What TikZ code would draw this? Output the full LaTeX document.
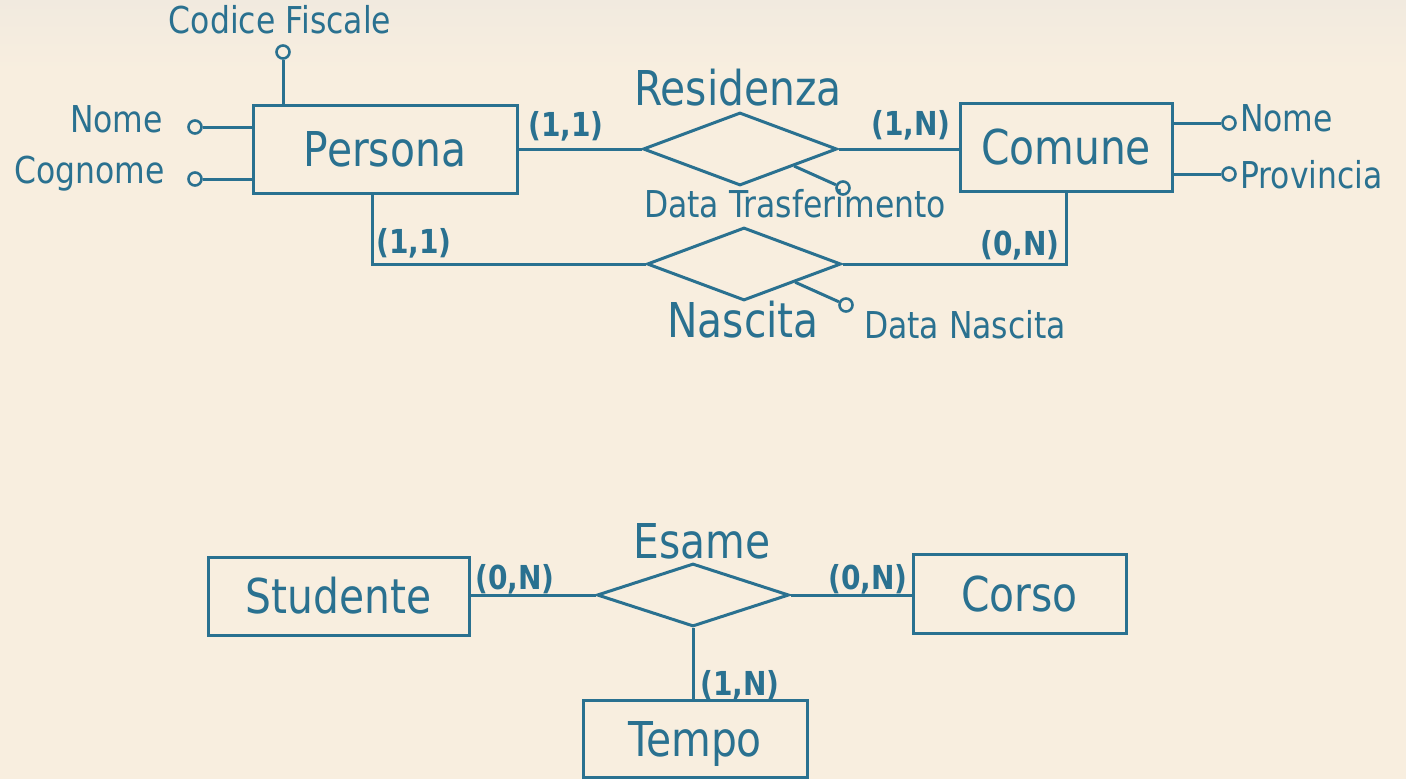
\documentclass[tikz,border=0pt]{standalone}
\usepackage{fontspec}
\setmainfont{DejaVu Sans}[FakeStretch=0.85]
\usetikzlibrary{shapes.geometric,calc}
\definecolor{er}{HTML}{2A7190}
\definecolor{bg}{HTML}{F8EEDF}
\definecolor{bgtop}{HTML}{F1EADF}
\tikzset{
  entity/.style={draw=er,line width=3pt,rectangle,inner sep=0pt,text=er,
    font=\fontsize{48}{50}\selectfont,text height=35pt,text depth=0pt},
  relation/.style={draw=er,line width=3pt,diamond,inner sep=0pt},
  attr/.style={draw=er,line width=2.6pt,circle,fill=bg,inner sep=0pt,minimum size=13pt},
  attrtext/.style={text=er,inner sep=0pt,font=\fontsize{37}{39}\selectfont},
  reltext/.style={text=er,inner sep=0pt,font=\fontsize{48}{50}\selectfont},
  card/.style={text=er,inner sep=0pt,font=\fontsize{33}{35}\selectfont\bfseries},
  link/.style={draw=er,line width=3pt}
}
\begin{document}
\begin{tikzpicture}[x=1pt,y=-1pt]
\fill[bg] (0,0) rectangle (1406,779);
\shade[top color=bgtop,bottom color=bg] (0,0) rectangle (1406,70);
\useasboundingbox (0,0) rectangle (1406,779);

% entities
\node[entity,minimum width=264pt,minimum height=88pt] (persona) at (385,149) {Persona};
\node[entity,minimum width=212pt,minimum height=88pt] (comune) at (1066,147) {Comune};
\node[entity,minimum width=261pt,minimum height=78pt] (studente) at (338.5,596) {Studente};
\node[entity,minimum width=213pt,minimum height=79pt] (corso) at (1019.5,593.5) {Corso};
\node[entity,minimum width=224pt,minimum height=77pt] (tempo) at (695,738.5) {Tempo};

% relationships
\node[relation,minimum width=194pt,minimum height=73pt] (res) at (740,149) {};
\node[relation,minimum width=194pt,minimum height=73pt] (nas) at (744,264) {};
\node[relation,minimum width=192pt,minimum height=63pt] (esa) at (693,595) {};

\node[reltext,anchor=base] (resl) at (738,105) {Residenza};
\node[reltext,anchor=base] (nasl) at (743,337) {Nascita};
\node[reltext,anchor=base] (esal) at (702,558) {Esame};

% attribute circles
\node[attr] (cf) at (283,52) {};
\node[attr] (pnome) at (195,127) {};
\node[attr] (pcogn) at (195,179) {};
\node[attr] (cnome) at (1229,123) {};
\node[attr] (cprov) at (1229,174) {};
\node[attr] (dtr) at (843,188) {};
\node[attr] (dna) at (846,305) {};

% attribute texts
\node[attrtext,anchor=base] (cft) at (280,33) {Codice Fiscale};
\node[attrtext,anchor=base east] (pnomet) at (163,132) {Nome};
\node[attrtext,anchor=base east] (pcognt) at (165,183) {Cognome};
\node[attrtext,anchor=base west] (cnomet) at (1240,131) {Nome};
\node[attrtext,anchor=base west] (cprovt) at (1240,188) {Provincia};
\node[attrtext,anchor=base] (dtrt) at (795,217) {Data Trasferimento};
\node[attrtext,anchor=base] (dnat) at (965,338) {Data Nascita};

% attribute links
\draw[link] (persona.north -| cf) -- (cf);
\draw[link] (persona.west |- pnome) -- (pnome);
\draw[link] (persona.west |- pcogn) -- (pcogn);
\draw[link] (comune.east |- cnome) -- (cnome);
\draw[link] (comune.east |- cprov) -- (cprov);
\coordinate (dtra) at ($(res.east)!0.45!(res.south)$);
\draw[link] (dtra) -- (dtr);
\coordinate (dnaa) at ($(nas.east)!0.48!(nas.south)$);
\draw[link] (dnaa) -- (dna);

% relationship links
\draw[link] (persona.east |- res.west) -- (res.west);
\draw[link] (res.east) -- (comune.west |- res.east);
\draw[link] ([xshift=-13pt]persona.south) |- (nas.west);
\draw[link] (comune.south) |- (nas.east);
\draw[link] (studente.east |- esa.west) -- (esa.west);
\draw[link] (esa.east) -- (corso.west |- esa.east);
\draw[link] (esa.south) -- (tempo.north -| esa.south);

% cardinalities
\node[card,anchor=base] (c1) at (566,136) {(1,1)};
\node[card,anchor=base] (c2) at (911,135) {(1,N)};
\node[card,anchor=base] (c3) at (414,253) {(1,1)};
\node[card,anchor=base] (c4) at (1020,255) {(0,N)};
\node[card,anchor=base] (c5) at (515,589) {(0,N)};
\node[card,anchor=base] (c6) at (868,589) {(0,N)};
\node[card,anchor=base] (c7) at (740,695) {(1,N)};
\end{tikzpicture}
\end{document}
